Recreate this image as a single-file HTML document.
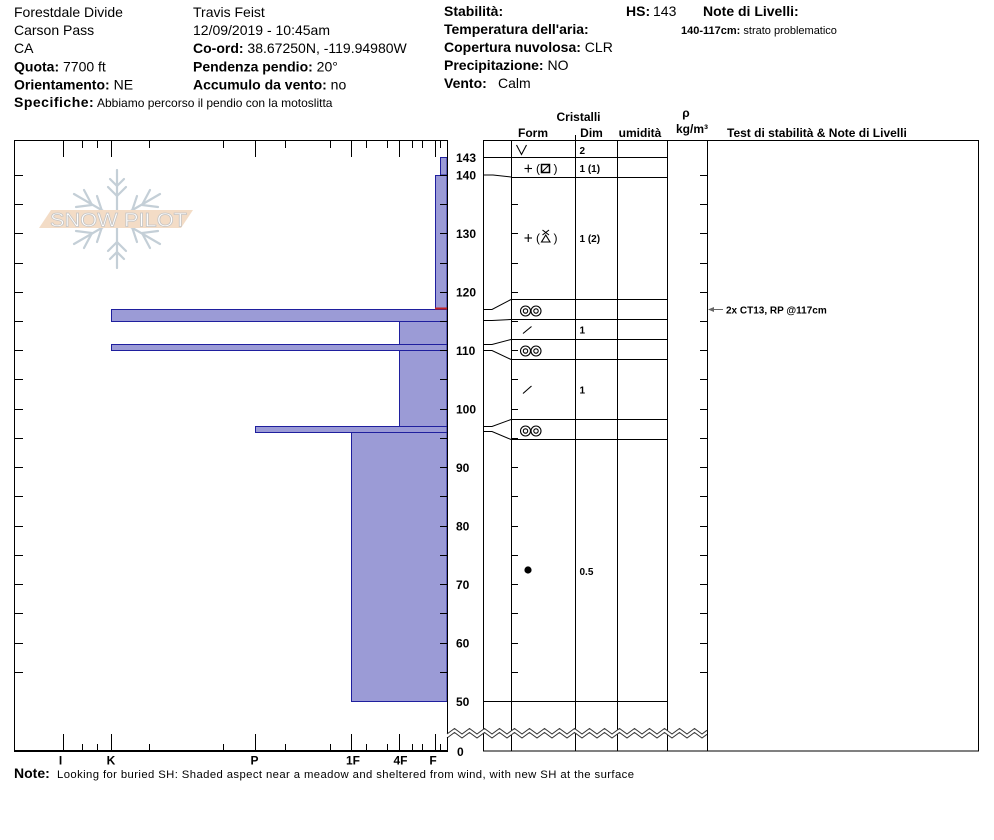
<!DOCTYPE html>
<html><head><meta charset="utf-8">
<style>
html,body{margin:0;padding:0;background:#fff;}
svg{display:block;font-family:"Liberation Sans",Arial,sans-serif;}
</style></head>
<body>
<svg width="994" height="840" viewBox="0 0 994 840" xmlns="http://www.w3.org/2000/svg">
<rect width="994" height="840" fill="#fff"/>

<!-- HEADER -->
<g font-size="14" fill="#000">
  <text x="14" y="17">Forestdale Divide</text>
  <text x="14" y="35">Carson Pass</text>
  <text x="14" y="53">CA</text>
  <text x="14" y="71.5"><tspan font-weight="bold">Quota:</tspan> 7700 ft</text>
  <text x="14" y="89.5"><tspan font-weight="bold">Orientamento:</tspan> NE</text>
  <text x="14" y="107"><tspan font-weight="bold" letter-spacing="0.5">Specifiche:</tspan></text>
  <text x="97" y="107" font-size="12">Abbiamo percorso il pendio con la motoslitta</text>

  <text x="193" y="17">Travis Feist</text>
  <text x="193" y="35">12/09/2019 - 10:45am</text>
  <text x="193" y="53"><tspan font-weight="bold">Co-ord:</tspan> 38.67250N, -119.94980W</text>
  <text x="193" y="71.5"><tspan font-weight="bold">Pendenza pendio:</tspan> 20°</text>
  <text x="193" y="89.5"><tspan font-weight="bold">Accumulo da vento:</tspan> no</text>

  <text x="444" y="16" font-weight="bold">Stabilità:</text>
  <text x="444" y="34" font-weight="bold">Temperatura dell'aria:</text>
  <text x="444" y="52"><tspan font-weight="bold">Copertura nuvolosa:</tspan> CLR</text>
  <text x="444" y="70"><tspan font-weight="bold">Precipitazione:</tspan> NO</text>
  <text x="444" y="88"><tspan font-weight="bold">Vento:</tspan><tspan x="498">Calm</tspan></text>

  <text x="626" y="16" font-weight="bold">HS:</text>
  <text x="653" y="16">143</text>
  <text x="703" y="16" font-weight="bold">Note di Livelli:</text>
</g>
<text x="681" y="34" font-size="11"><tspan font-weight="bold">140-117cm:</tspan> strato problematico</text>

<!-- COLUMN HEADERS -->
<g font-size="12" font-weight="bold" fill="#000">
  <text x="578.5" y="121" text-anchor="middle">Cristalli</text>
  <text x="533" y="137" text-anchor="middle">Form</text>
  <text x="591.5" y="137" text-anchor="middle">Dim</text>
  <text x="640" y="137" text-anchor="middle">umidità</text>
  <text x="686" y="117" text-anchor="middle">ρ</text>
  <text x="692" y="133" text-anchor="middle">kg/m³</text>
  <text x="727" y="137">Test di stabilità &amp; Note di Livelli</text>
</g>

<!-- LOGO -->
<g stroke="#c4cfd7" stroke-width="2.2" fill="none" stroke-linecap="round">
  <line x1="117" y1="170" x2="117" y2="268"/>
  <line x1="74" y1="194" x2="160" y2="244"/>
  <line x1="74" y1="244" x2="160" y2="194"/>
  <polyline points="108,187 117,196 126,187"/>
  <polyline points="110,179 117,186 124,179"/>
  <polyline points="108,251 117,242 126,251"/>
  <polyline points="110,259 117,252 124,259"/>
  <polyline points="84,190 92,205 76,207"/>
  <polyline points="97,196 102,211 89,213"/>
  <polyline points="150,190 142,205 158,207"/>
  <polyline points="137,196 132,211 145,213"/>
  <polyline points="84,248 92,233 76,231"/>
  <polyline points="97,242 102,227 89,225"/>
  <polyline points="150,248 142,233 158,231"/>
  <polyline points="137,242 132,227 145,225"/>
</g>
<polygon points="51,210 193,210 181,228 39,228" fill="#f3dcc6"/>
<text x="50" y="226.5" font-size="19" fill="#fff" stroke="#c4c4c4" stroke-width="0.7" textLength="137" lengthAdjust="spacingAndGlyphs">SNOW PILOT</text>

<!-- HARDNESS BARS -->
<g fill="#9b9bd6" stroke="#1f1f9e" stroke-width="1" shape-rendering="crispEdges">
  <rect x="440.5" y="157.5" width="6.5" height="17.5"/>
  <rect x="435.5" y="175.5" width="11.5" height="134"/>
  <rect x="399.5" y="321.5" width="47.5" height="23"/>
  <rect x="399.5" y="350.5" width="47.5" height="76"/>
  <rect x="351.5" y="432.5" width="95.5" height="269"/>
  <rect x="111.5" y="309.5" width="335.5" height="12"/>
  <rect x="111.5" y="344.5" width="335.5" height="6"/>
  <rect x="255.5" y="426.5" width="191.5" height="6"/>
</g>
<line x1="435" y1="308.5" x2="447" y2="308.5" stroke="#c02222" stroke-width="2"/>

<!-- LEFT CHART FRAME -->
<g stroke="#000" stroke-width="1" fill="none" shape-rendering="crispEdges">
  <line x1="14.5" y1="140" x2="14.5" y2="752"/>
  <line x1="14" y1="140.5" x2="448" y2="140.5"/>
  <line x1="447.5" y1="140" x2="447.5" y2="752"/>
  <line x1="14" y1="751" x2="448" y2="751" stroke-width="2"/>
  <path d="M63.5 140V157 M111.5 140V157 M255.5 140V157 M351.5 140V157 M399.5 140V157 M435.5 140V157
           M82.5 140V148 M97.5 140V148 M149.5 140V148 M223.5 140V148 M285.5 140V148 M330.5 140V148
           M366.5 140V148 M387.5 140V148 M412.5 140V148 M422.5 140V148 M440.5 140V148"/>
  <path d="M63.5 751V734 M111.5 751V734 M255.5 751V734 M351.5 751V734 M399.5 751V734 M435.5 751V734
           M82.5 751V744 M97.5 751V744 M149.5 751V744 M223.5 751V744 M285.5 751V744 M330.5 751V744
           M366.5 751V744 M387.5 751V744 M412.5 751V744 M422.5 751V744 M440.5 751V744"/>
  <path d="M14 175.5H23 M14 204.5H23 M14 233.5H23 M14 263.5H23 M14 292.5H23 M14 321.5H23 M14 350.5H23 M14 379.5H23 M14 409.5H23 M14 438.5H23 M14 467.5H23 M14 496.5H23 M14 526.5H23 M14 555.5H23 M14 584.5H23 M14 613.5H23 M14 643.5H23 M14 672.5H23"/>
  <path d="M440 175.5H447 M440 204.5H447 M440 233.5H447 M440 263.5H447 M440 292.5H447 M440 321.5H447 M440 350.5H447 M440 379.5H447 M440 409.5H447 M440 438.5H447 M440 467.5H447 M440 496.5H447 M440 526.5H447 M440 555.5H447 M440 584.5H447 M440 613.5H447 M440 643.5H447 M440 672.5H447"/>
</g>

<!-- hardness labels -->
<g font-size="12" font-weight="bold" text-anchor="middle">
  <text x="60.5" y="764.5">I</text>
  <text x="111" y="764.5">K</text>
  <text x="254.5" y="764.5">P</text>
  <text x="353" y="764.5">1F</text>
  <text x="400.5" y="764.5">4F</text>
  <text x="433" y="764.5">F</text>
</g>

<!-- depth labels -->
<g font-size="12" font-weight="bold">
  <text x="456" y="162">143</text>
  <text x="456" y="179.5">140</text>
  <text x="456" y="238">130</text>
  <text x="456" y="296.5">120</text>
  <text x="456" y="355">110</text>
  <text x="456" y="413.5">100</text>
  <text x="456" y="472">90</text>
  <text x="456" y="530.5">80</text>
  <text x="456" y="589">70</text>
  <text x="456" y="647.5">60</text>
  <text x="456" y="706">50</text>
  <text x="457" y="756">0</text>
</g>

<!-- RIGHT TABLE -->
<g stroke="#000" stroke-width="1" fill="none" shape-rendering="crispEdges">
  <line x1="483" y1="140.5" x2="979" y2="140.5"/>
  <line x1="483" y1="751" x2="979" y2="751"/>
  <line x1="483.5" y1="140" x2="483.5" y2="751"/>
  <line x1="511.5" y1="140" x2="511.5" y2="751"/>
  <line x1="575.5" y1="135" x2="575.5" y2="751"/>
  <line x1="617.5" y1="140" x2="617.5" y2="751"/>
  <line x1="667.5" y1="140" x2="667.5" y2="751"/>
  <line x1="707.5" y1="140" x2="707.5" y2="751"/>
  <line x1="978.5" y1="140" x2="978.5" y2="751"/>
  <line x1="483" y1="157.5" x2="667" y2="157.5"/>
  <line x1="511" y1="177.5" x2="667" y2="177.5"/>
  <line x1="511" y1="299.5" x2="667" y2="299.5"/>
  <line x1="511" y1="319.5" x2="667" y2="319.5"/>
  <line x1="511" y1="339.5" x2="667" y2="339.5"/>
  <line x1="511" y1="359.5" x2="667" y2="359.5"/>
  <line x1="511" y1="419.5" x2="667" y2="419.5"/>
  <line x1="511" y1="439.5" x2="667" y2="439.5"/>
  <line x1="483" y1="701.5" x2="667" y2="701.5"/>
  <path d="M511 204.5H518 M511 233.5H518 M511 263.5H518 M511 292.5H518 M511 321.5H518 M511 350.5H518 M511 379.5H518 M511 409.5H518 M511 438.5H518 M511 467.5H518 M511 496.5H518 M511 526.5H518 M511 555.5H518 M511 584.5H518 M511 613.5H518 M511 643.5H518 M511 672.5H518"/>
  <path d="M700 175.5H707 M700 204.5H707 M700 233.5H707 M700 263.5H707 M700 292.5H707 M700 321.5H707 M700 350.5H707 M700 379.5H707 M700 409.5H707 M700 438.5H707 M700 467.5H707 M700 496.5H707 M700 526.5H707 M700 555.5H707 M700 584.5H707 M700 613.5H707 M700 643.5H707 M700 672.5H707"/>
</g>
<g stroke="#000" stroke-width="1" fill="none">
  <polyline points="483,175 493,175 511,177"/>
  <polyline points="483,309.5 492,309.5 511,299.5"/>
  <polyline points="483,320.5 492,320.5 511,319.5"/>
  <polyline points="483,344.5 492,344.5 511,339.5"/>
  <polyline points="483,350.5 492,350.5 511,359.5"/>
  <polyline points="483,426.5 492,426.5 511,419.5"/>
  <polyline points="483,431.5 492,431.5 511,439.5"/>
</g>

<!-- Form symbols -->
<g stroke="#000" stroke-width="1.1" fill="none">
  <polyline points="516.5,145 521.5,154.5 526.5,145"/>
  <line x1="524.5" y1="168.5" x2="532" y2="168.5"/>
  <line x1="528.25" y1="164.5" x2="528.25" y2="172.5"/>
  <rect x="541.5" y="164.5" width="8" height="8" stroke-width="1.5"/>
  <line x1="542" y1="172" x2="549" y2="165"/>
  <line x1="524.5" y1="238" x2="532" y2="238"/>
  <line x1="528.25" y1="234" x2="528.25" y2="242"/>
  <polygon points="541.5,242 550,242 545.75,235"/>
  <line x1="542.5" y1="230" x2="549" y2="235"/>
  <line x1="549" y1="230" x2="542.5" y2="235"/>
  <circle cx="525.5" cy="311" r="5"/><circle cx="525.5" cy="311" r="2.2"/>
  <circle cx="536" cy="311" r="5"/><circle cx="536" cy="311" r="2.2"/>
  <circle cx="525.5" cy="351" r="5"/><circle cx="525.5" cy="351" r="2.2"/>
  <circle cx="536" cy="351" r="5"/><circle cx="536" cy="351" r="2.2"/>
  <circle cx="525.5" cy="431" r="5"/><circle cx="525.5" cy="431" r="2.2"/>
  <circle cx="536" cy="431" r="5"/><circle cx="536" cy="431" r="2.2"/>
  <line x1="523" y1="333.5" x2="531.5" y2="326.5"/>
  <line x1="523" y1="393.5" x2="531.5" y2="386"/>
</g>
<g font-size="12">
  <text x="536" y="172.5">(</text><text x="553.5" y="172.5">)</text>
  <text x="536" y="242">(</text><text x="553.5" y="242">)</text>
</g>
<circle cx="528" cy="570" r="3.6" fill="#000"/>

<!-- Dim values -->
<g font-size="10" font-weight="bold">
  <text x="579.5" y="154">2</text>
  <text x="579.5" y="172">1 (1)</text>
  <text x="579.5" y="242">1 (2)</text>
  <text x="579.5" y="333.5">1</text>
  <text x="579.5" y="393.5">1</text>
  <text x="579.5" y="575">0.5</text>
</g>

<!-- stability test arrow -->
<line x1="711" y1="309.5" x2="723" y2="309.5" stroke="#666" stroke-width="1"/>
<polygon points="708,309.5 714,307 714,312" fill="#666"/>
<text x="726" y="313.5" font-size="10" font-weight="bold">2x CT13, RP @117cm</text>

<!-- ZIGZAG break -->
<polygon fill="#fff" points="447,734 454.5,728.5 462,734 469.5,728.5 477,734 484.5,728.5 492,734 499.5,728.5 507,734 514.5,728.5 522,734 529.5,728.5 537,734 544.5,728.5 552,734 559.5,728.5 567,734 574.5,728.5 582,734 589.5,728.5 597,734 604.5,728.5 612,734 619.5,728.5 627,734 634.5,728.5 642,734 649.5,728.5 657,734 664.5,728.5 672,734 679.5,728.5 687,734 694.5,728.5 702,734 707,730.3 707,734.3 702,738 694.5,732.5 687,738 679.5,732.5 672,738 664.5,732.5 657,738 649.5,732.5 642,738 634.5,732.5 627,738 619.5,732.5 612,738 604.5,732.5 597,738 589.5,732.5 582,738 574.5,732.5 567,738 559.5,732.5 552,738 544.5,732.5 537,738 529.5,732.5 522,738 514.5,732.5 507,738 499.5,732.5 492,738 484.5,732.5 477,738 469.5,732.5 462,738 454.5,732.5 447,738"/>
<polyline fill="none" stroke="#333" stroke-width="1" points="447,734 454.5,728.5 462,734 469.5,728.5 477,734 484.5,728.5 492,734 499.5,728.5 507,734 514.5,728.5 522,734 529.5,728.5 537,734 544.5,728.5 552,734 559.5,728.5 567,734 574.5,728.5 582,734 589.5,728.5 597,734 604.5,728.5 612,734 619.5,728.5 627,734 634.5,728.5 642,734 649.5,728.5 657,734 664.5,728.5 672,734 679.5,728.5 687,734 694.5,728.5 702,734 707,730.3"/>
<polyline fill="none" stroke="#333" stroke-width="1" points="447,738 454.5,732.5 462,738 469.5,732.5 477,738 484.5,732.5 492,738 499.5,732.5 507,738 514.5,732.5 522,738 529.5,732.5 537,738 544.5,732.5 552,738 559.5,732.5 567,738 574.5,732.5 582,738 589.5,732.5 597,738 604.5,732.5 612,738 619.5,732.5 627,738 634.5,732.5 642,738 649.5,732.5 657,738 664.5,732.5 672,738 679.5,732.5 687,738 694.5,732.5 702,738 707,734.3"/>
<line x1="447.5" y1="737" x2="447.5" y2="752" stroke="#000" stroke-width="1"/>

<!-- NOTE -->
<text x="14" y="778" font-size="14" font-weight="bold">Note:</text>
<text x="57" y="778" font-size="11.3" textLength="577" lengthAdjust="spacing">Looking for buried SH: Shaded aspect near a meadow and sheltered from wind, with new SH at the surface</text>
</svg>
</body></html>
